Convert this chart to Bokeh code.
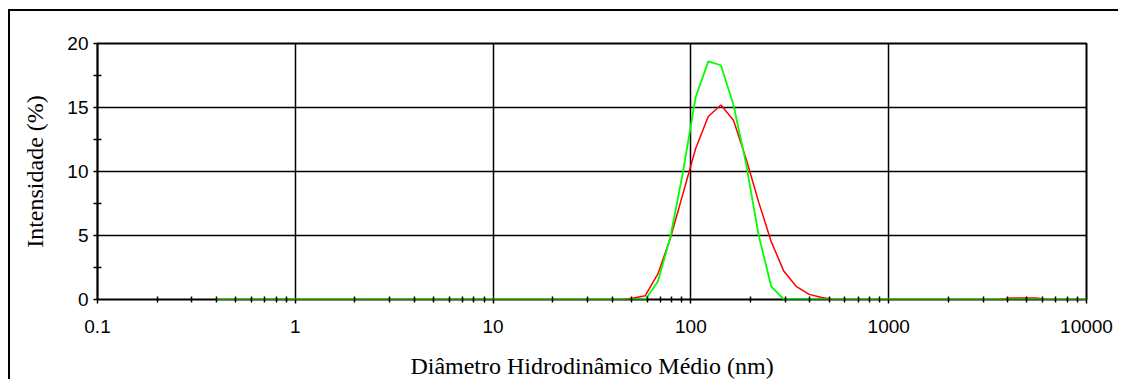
from bokeh.plotting import figure
from bokeh.models import FixedTicker, Range1d
from bokeh.embed import file_html
from bokeh.resources import INLINE

# ---- data ----
green_d = [0.4, 58.8, 68.1, 78.8, 91.3, 105.7, 122.4, 141.8, 164.2, 190.1, 220.2, 255.0, 295.3, 10000]
green_v = [0, 0, 1.4, 4.9, 10.0, 15.8, 18.6, 18.3, 15.2, 10.6, 5.0, 1.0, 0, 0]

red_d = [0.4, 43.8, 50.7, 58.8, 68.1, 78.8, 91.3, 105.7, 122.4, 141.8, 164.2, 190.1, 220.2,
         255.0, 295.3, 342.0, 396.1, 458.7, 531.2, 3580, 4146, 4801, 5560, 6438, 10000]
red_v = [0, 0, 0.1, 0.3, 2.0, 4.8, 8.3, 11.8, 14.3, 15.2, 14.0, 11.0, 7.6,
         4.5, 2.2, 1.0, 0.4, 0.15, 0, 0, 0.12, 0.12, 0.12, 0, 0]

x_ticks = [0.1, 1, 10, 100, 1000, 10000]
x_tick_labels = ["0.1", "1", "10", "100", "1000", "10000"]
y_ticks = [0, 5, 10, 15, 20]
y_minor = [2.5, 7.5, 12.5, 17.5]

x_title = "Diâmetro Hidrodinâmico Médio (nm)"
y_title = "Intensidade (%)"

x_minor = []
for dec in x_ticks[:-1]:
    for m in range(2, 10):
        x_minor.append(dec * m)

p = figure(width=1110, height=370, x_axis_type="log",
           x_range=Range1d(0.1, 10000), y_range=Range1d(0, 20),
           output_backend="svg", toolbar_location=None,
           min_border_left=87, min_border_right=34,
           min_border_top=32, min_border_bottom=82)

p.margin = (9, 0, 0, 8)
p.styles = {"border-left": "2px solid #000", "border-top": "2px solid #000"}

p.background_fill_color = "white"
p.border_fill_color = "white"
p.outline_line_color = "black"
p.outline_line_width = 2

# grids
p.xgrid.ticker = FixedTicker(ticks=x_ticks)
p.ygrid.ticker = FixedTicker(ticks=y_ticks)
for g in (p.xgrid, p.ygrid):
    g.grid_line_color = "black"
    g.grid_line_width = 1.5
    g.grid_line_alpha = 1.0

# x axis
xa = p.xaxis[0]
xa.ticker = FixedTicker(ticks=x_ticks, minor_ticks=x_minor)
xa.major_label_overrides = {t: s for t, s in zip(x_ticks, x_tick_labels)}
xa.axis_line_color = None
xa.major_tick_in = 0
xa.major_tick_out = 4
xa.major_tick_line_width = 1.5
xa.minor_tick_in = 3
xa.minor_tick_out = 3
xa.minor_tick_line_width = 1.5
xa.major_label_standoff = 16
xa.major_label_text_font = "Liberation Sans"
xa.major_label_text_font_size = "19px"
xa.major_label_text_color = "black"
xa.axis_label = x_title
xa.axis_label_text_font = "Liberation Serif"
xa.axis_label_text_font_style = "normal"
xa.axis_label_text_font_size = "24px"
xa.axis_label_text_color = "black"
xa.axis_label_standoff = 17

# y axis
ya = p.yaxis[0]
ya.ticker = FixedTicker(ticks=y_ticks, minor_ticks=y_minor)
ya.axis_line_color = "black"
ya.axis_line_width = 1.5
ya.major_tick_in = 0
ya.major_tick_out = 4
ya.major_tick_line_width = 1.5
ya.minor_tick_in = 4
ya.minor_tick_out = 4
ya.minor_tick_line_width = 1.5
ya.major_label_standoff = 5
ya.major_label_text_font = "Liberation Sans"
ya.major_label_text_font_size = "19px"
ya.major_label_text_color = "black"
ya.axis_label = y_title
ya.axis_label_text_font = "Liberation Serif"
ya.axis_label_text_font_style = "normal"
ya.axis_label_text_font_size = "24px"
ya.axis_label_text_color = "black"
ya.axis_label_standoff = 16

# curves
p.line(red_d, red_v, line_color="#ff0000", line_width=1.5)
p.line(green_d, green_v, line_color="#00ff00", line_width=1.8)

open("out.html", "w").write(file_html(p, INLINE))
